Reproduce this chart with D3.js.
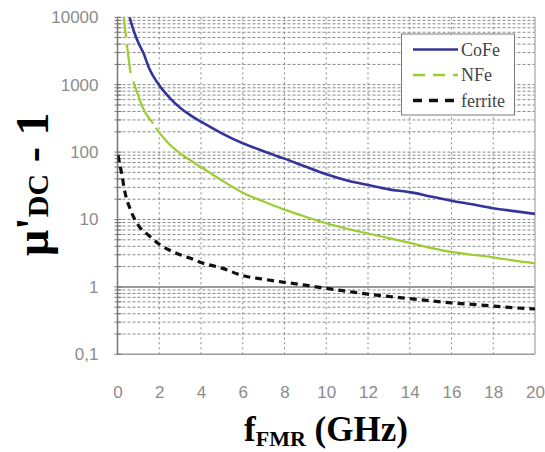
<!DOCTYPE html>
<html>
<head>
<meta charset="utf-8">
<script src="https://cdn.jsdelivr.net/npm/d3@7"></script>
<style>
  body { margin: 0; background: #fff; }
  svg { display: block; }
</style>
</head>
<body>
<svg id="chart"></svg>
<script>
// values (GHz / mu'-1)
const cofeF  = [0.58, 0.8, 1, 1.25, 1.5, 2, 2.5, 3, 3.5, 4, 5, 6, 7, 8, 9, 10, 11, 12, 13, 14, 15, 16, 17, 18, 19, 20];
const cofeMu = [10000, 6000, 4200, 2900, 1800, 980, 640, 455, 350, 283, 190, 135, 103, 80, 61, 47, 38, 32.5, 28, 25.5, 22, 19, 16.8, 14.7, 13.3, 12.1];

const nfeF  = [0.3, 0.45, 0.62, 0.75, 1, 1.25, 1.7, 2, 2.5, 3, 3.5, 4, 5, 6, 7, 8, 9, 10, 11, 12, 13, 14, 15, 16, 17, 18, 19, 20];
const nfeMu = [10000, 4000, 1560, 1150, 680, 430, 267, 195, 130, 96, 75, 60, 38, 25, 18.5, 14, 11, 8.8, 7.3, 6.2, 5.3, 4.5, 3.8, 3.3, 3.0, 2.75, 2.45, 2.24];

const ferF  = [0.02, 0.2, 0.35, 0.6, 1, 1.5, 2, 2.5, 3, 3.5, 4, 5, 6, 7, 8, 9, 10, 11, 12, 13, 14, 15, 16, 17, 18, 19, 20];
const ferMu = [90, 48, 26, 14.5, 8.2, 5.8, 4.3, 3.5, 3.0, 2.65, 2.3, 1.9, 1.47, 1.3, 1.17, 1.06, 0.95, 0.86, 0.78, 0.72, 0.67, 0.62, 0.58, 0.55, 0.52, 0.49, 0.47];

const xTicks = [0, 2, 4, 6, 8, 10, 12, 14, 16, 18, 20];
const yTicks = [0.1, 1, 10, 100, 1000, 10000];
const yTickLabels = ["0,1", "1", "10", "100", "1000", "10000"];

const seriesNames = ["CoFe", "NFe", "ferrite"];

let width = 545;
let height = 452;
let pLeft = 117.5, pRight = 535, pTop = 17.3, pBottom = 354.3;

let svg = d3.select('#chart')
	.attr('width', width)
	.attr('height', height);

let x = d3.scaleLinear().domain([0, 20]).range([pLeft, pRight]);
let y = d3.scaleLog().domain([0.1, 10000]).range([pBottom, pTop]);

// minor log values 2..9 in each decade
let minor = [];
for (let e = -1; e < 4; e++) {
	for (let k = 2; k <= 9; k++) minor.push(k * Math.pow(10, e));
}

let grid = svg.append('g').attr('class', 'grid');

grid.selectAll('line.hmin')
	.data(minor.concat(yTicks.filter(v => v !== 1 && v !== 0.1)))
	.enter().append('line')
	.attr('x1', pLeft).attr('x2', pRight)
	.attr('y1', d => y(d)).attr('y2', d => y(d))
	.attr('stroke', '#888')
	.attr('stroke-width', 1)
	.attr('stroke-dasharray', '3,2');

grid.selectAll('line.v')
	.data(xTicks.filter(v => v > 0 && v < 20))
	.enter().append('line')
	.attr('x1', d => x(d)).attr('x2', d => x(d))
	.attr('y1', pTop).attr('y2', pBottom)
	.attr('stroke', '#888')
	.attr('stroke-width', 1)
	.attr('stroke-dasharray', '2,3');

// axis-like frame lines
svg.append('line')
	.attr('x1', pLeft).attr('x2', pRight)
	.attr('y1', y(1)).attr('y2', y(1))
	.attr('stroke', '#7a7a7a').attr('stroke-width', 1.5);
svg.append('line')
	.attr('x1', pLeft).attr('x2', pRight)
	.attr('y1', pBottom).attr('y2', pBottom)
	.attr('stroke', '#9a9a9a').attr('stroke-width', 1.5);
svg.append('line')
	.attr('x1', pRight).attr('x2', pRight)
	.attr('y1', pTop).attr('y2', pBottom)
	.attr('stroke', '#b5b5b5').attr('stroke-width', 1.5);

// left axis with minor ticks
svg.append('g')
	.selectAll('line')
	.data(minor.concat(yTicks))
	.enter().append('line')
	.attr('x1', pLeft - 3).attr('x2', pLeft + 4)
	.attr('y1', d => y(d)).attr('y2', d => y(d))
	.attr('stroke', '#777');
svg.append('line')
	.attr('x1', pLeft).attr('x2', pLeft)
	.attr('y1', pTop).attr('y2', pBottom)
	.attr('stroke', '#777').attr('stroke-width', 1.5);

let yAxis = svg.append('g')
	.attr('transform', 'translate(' + pLeft + ',0)')
	.call(d3.axisLeft(y).tickValues(yTicks).tickSize(0).tickPadding(19)
		.tickFormat((d, i) => yTickLabels[i]));
let xAxis = svg.append('g')
	.attr('transform', 'translate(0,' + pBottom + ')')
	.call(d3.axisBottom(x).tickValues(xTicks).tickSize(0).tickPadding(32));

[yAxis, xAxis].forEach(a => {
	a.select('.domain').remove();
	a.selectAll('text')
		.attr('font-family', 'Liberation Sans, Arial, sans-serif')
		.attr('font-size', 17)
		.attr('fill', '#8c8c8c');
});

// curves
svg.append('clipPath').attr('id', 'plotclip')
	.append('rect')
	.attr('x', pLeft).attr('y', pTop - 2)
	.attr('width', pRight - pLeft).attr('height', pBottom - pTop + 2);

let line = d3.line()
	.x(d => x(d[0]))
	.y(d => y(d[1]))
	.curve(d3.curveMonotoneX);

let curves = svg.append('g').attr('clip-path', 'url(#plotclip)');

curves.append('path')
	.datum(ferF.map((f, i) => [f, ferMu[i]]))
	.attr('d', line)
	.attr('fill', 'none')
	.attr('stroke', '#111')
	.attr('stroke-width', 3.2)
	.attr('stroke-dasharray', '7,5');

curves.append('path')
	.datum(nfeF.map((f, i) => [f, nfeMu[i]]))
	.attr('d', line)
	.attr('fill', 'none')
	.attr('stroke', '#9ccc2e')
	.attr('stroke-width', 2.2)
	.attr('stroke-dasharray', '20,7,29,9,47,5,4000');

curves.append('path')
	.datum(cofeF.map((f, i) => [f, cofeMu[i]]))
	.attr('d', line)
	.attr('fill', 'none')
	.attr('stroke', '#34349a')
	.attr('stroke-width', 2.6);

// legend
let legend = svg.append('g').attr('class', 'legend');
legend.append('rect')
	.attr('x', 401.5).attr('y', 34)
	.attr('width', 113).attr('height', 81)
	.attr('fill', '#fff')
	.attr('stroke', '#7a7a7a');

let legStyles = [
	{ color: '#34349a', dash: null, w: 2.6 },
	{ color: '#9ccc2e', dash: '12,8', w: 2.4 },
	{ color: '#111', dash: '9,7', w: 3.4 }
];

seriesNames.forEach((name, i) => {
	let ly = 49.5 + i * 25.5;
	legend.append('line')
		.attr('x1', 413).attr('x2', 458)
		.attr('y1', ly).attr('y2', ly)
		.attr('stroke', legStyles[i].color)
		.attr('stroke-width', legStyles[i].w)
		.attr('stroke-dasharray', legStyles[i].dash);
	legend.append('text')
		.attr('x', 461).attr('y', ly + 6)
		.attr('font-family', 'Liberation Serif, Times New Roman, serif')
		.attr('font-size', 18)
		.attr('fill', '#444')
		.text(name);
});

// axis titles
let xt = svg.append('text')
	.attr('x', 326).attr('y', 441)
	.attr('text-anchor', 'middle')
	.attr('font-family', 'Liberation Serif, Times New Roman, serif')
	.attr('font-weight', 'bold')
	.attr('font-size', 35)
	.attr('fill', '#000');
xt.append('tspan').text('f');
xt.append('tspan').attr('font-size', 22).attr('dy', 5).text('FMR');
xt.append('tspan').attr('dy', -5).text(' (GHz)');

let yt = svg.append('text')
	.attr('transform', 'translate(48,256) rotate(-90)')
	.attr('font-family', 'Liberation Serif, Times New Roman, serif')
	.attr('font-weight', 'bold')
	.attr('font-size', 46)
	.attr('fill', '#000');
yt.append('tspan').text('\u03bc\'');
yt.append('tspan').attr('font-size', 30).text('DC');
yt.append('tspan').text(' - 1');
</script>
</body>
</html>
